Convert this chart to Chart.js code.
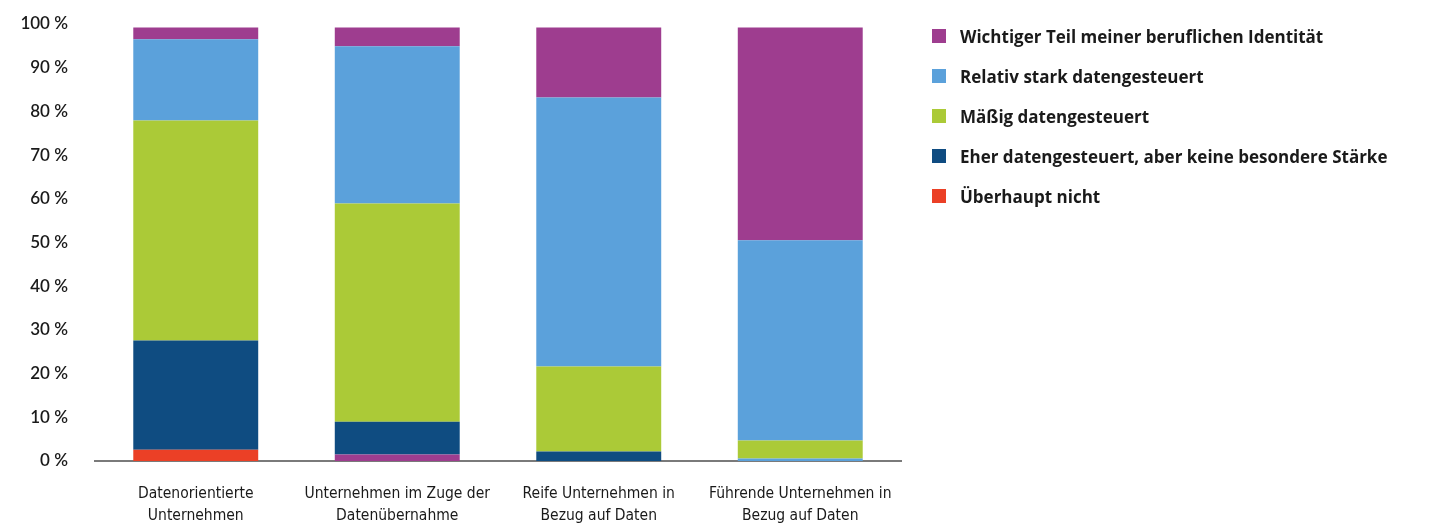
<!DOCTYPE html>
<html>
<head>
<meta charset="utf-8">
<script src="https://cdn.jsdelivr.net/npm/chart.js@4/dist/chart.umd.min.js"></script>
<style>
  html, body { margin: 0; padding: 0; background: #fff; }
  #wrap { position: relative; width: 1443px; height: 524px; }
  #legend { position: absolute; left: 932px; top: 16px; margin: 0; padding: 0; list-style: none;
            font-family: 'Open Sans', sans-serif; font-weight: 700; font-size: 17px; color: #1a1a1a; }
  #legend li { height: 40px; display: flex; align-items: center; white-space: nowrap; }
  #legend span.box { width: 14px; height: 14px; margin-right: 14px; flex: none; }
</style>
</head>
<body>
<div id="wrap">
  <canvas id="c" width="1443" height="524"></canvas>
  <ul id="legend"></ul>
</div>
<script>
const categories = [
    ['Datenorientierte', 'Unternehmen'],
    ['Unternehmen im Zuge der', 'Datenübernahme'],
    ['Reife Unternehmen in', 'Bezug auf Daten'],
    ['Führende Unternehmen in', 'Bezug auf Daten']
];

// stacked bottom to top
const ueberhauptNicht = [2.6, 0, 0, 0];
const purpleBase = [0, 1.5, 0, 0];     // purple sliver at the bottom of bar 2
const blueBase = [0, 0, 0, 0.6];       // light blue sliver at the bottom of bar 4
const eherDaten = [25.0, 7.5, 2.2, 0];
const maessig = [50.3, 49.9, 19.4, 4.1];
const relativStark = [18.6, 36.0, 61.6, 45.8];
const wichtig = [2.7, 4.3, 16.0, 48.7];

const RED = '#EB4026', DARK = '#0F4C81', GREEN = '#ABCA37', BLUE = '#5BA1DB', PURPLE = '#9E3D8F';

const ds = (label, data, color, inLegend = true) =>
    ({ label, data, backgroundColor: color, borderWidth: 0, stack: 's', inLegend });

const chart = new Chart(document.getElementById('c'), {
    type: 'bar',
    data: {
        labels: categories,
        datasets: [
            ds('Überhaupt nicht', ueberhauptNicht, RED),
            ds('', purpleBase, PURPLE, false),
            ds('', blueBase, BLUE, false),
            ds('Eher datengesteuert, aber keine besondere Stärke', eherDaten, DARK),
            ds('Mäßig datengesteuert', maessig, GREEN),
            ds('Relativ stark datengesteuert', relativStark, BLUE),
            ds('Wichtiger Teil meiner beruflichen Identität', wichtig, PURPLE)
        ]
    },
    options: {
        responsive: false,
        animation: false,
        layout: { padding: { top: 24, right: 542, left: 20, bottom: 0 } },
        datasets: { bar: { barPercentage: 1, categoryPercentage: 0.62 } },
        plugins: {
            tooltip: { enabled: false },
            legend: { display: false }
        },
        scales: {
            x: {
                stacked: true,
                grid: { display: false, drawTicks: false },
                border: { display: true, color: '#7a7a7a', width: 2 },
                afterFit: s => { s.height = 63; },
                ticks: {
                    color: '#1a1a1a',
                    padding: 22,
                    maxRotation: 0,
                    font: { family: "'DejaVu Sans Condensed', 'Roboto', sans-serif", size: 15.5, lineHeight: 1.4 }
                }
            },
            y: {
                stacked: true,
                min: 0,
                max: 100,
                grid: { display: false, drawTicks: false },
                border: { display: false },
                afterFit: s => { s.width = 75; s.paddingTop = 0; s.paddingBottom = 0; },
                ticks: {
                    stepSize: 10,
                    padding: 27,
                    color: '#1a1a1a',
                    font: { family: 'Lato', size: 17, weight: '600' },
                    callback: v => v + ' %'
                }
            }
        }
    }
});

// legend, top item first
const legend = document.getElementById('legend');
chart.data.datasets.filter(d => d.inLegend).reverse().forEach(d => {
    const li = document.createElement('li');
    const box = document.createElement('span');
    box.className = 'box';
    box.style.background = d.backgroundColor;
    li.appendChild(box);
    li.appendChild(document.createTextNode(d.label));
    legend.appendChild(li);
});
</script>
</body>
</html>
